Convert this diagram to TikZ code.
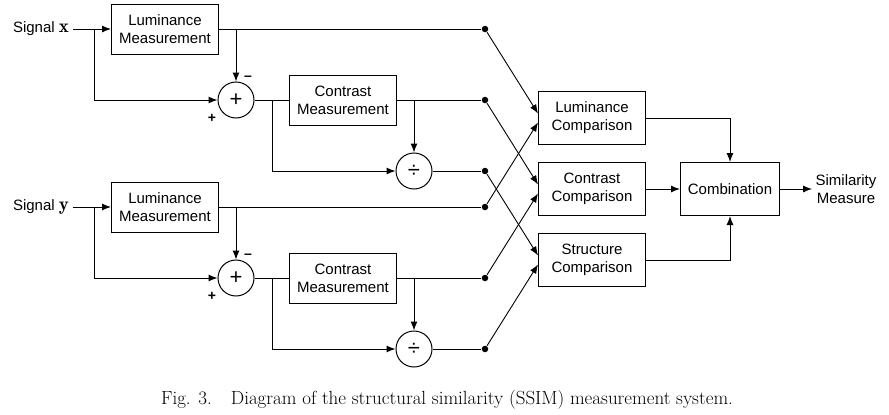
\documentclass[tikz,border=0pt]{standalone}
\usepackage{fontspec}
\setsansfont{Liberation Sans}
\usepackage{tikz}
\usepackage{amsmath}
\usetikzlibrary{shapes.geometric, arrows.meta, positioning, calc}

\newcommand{\sigvec}[1]{{\fontsize{19}{19}\selectfont$\mathbf{#1}$}}

\begin{document}
\begin{tikzpicture}[
        x=1pt, y=-1pt,
        font=\sffamily\fontsize{15}{18}\selectfont,
        line width=1pt,
        >={Latex[width=7pt,length=9pt]},
        base/.style={draw, line width=1pt, align=center, inner sep=2pt},
        process/.style={base, rectangle, minimum width=107pt, minimum height=50pt},
        compare/.style={base, rectangle, minimum width=107pt, minimum height=53pt},
        combine/.style={base, rectangle, minimum width=99pt, minimum height=53pt},
        op/.style={base, circle, minimum size=36pt, inner sep=0pt, font=\sffamily\fontsize{22}{22}\selectfont},
        dot/.style={circle, fill, inner sep=0pt, minimum size=6.5pt},
        sign/.style={inner sep=0pt, font=\sffamily\bfseries\fontsize{14}{14}\selectfont},
        arrow/.style={->}
    ]
    \useasboundingbox (0,0) rectangle (889,415);

    % Nodes: signal x
    \node[align=center, inner sep=4pt] (sigx) at (41,29) {Signal \sigvec{x}};
    \coordinate (bx) at (94,29);
    \node[process] (lumx) at (165,29) {Luminance\\Measurement};
    \node[op] (addx) at (236,100) {+};
    \node[sign] at (248,78) {--};
    \node[sign] at (212,118) {+};
    \coordinate (cx) at (272,100);
    \node[process] (conx) at (343,100) {Contrast\\Measurement};
    \coordinate (dx) at (414,100);
    \node[op] (divx) at (414,171) {÷};
    \node[dot] (ptlx) at (485,29) {};
    \node[dot] (ptcx) at (485,100) {};
    \node[dot] (ptsx) at (485,171) {};

    % Nodes: signal y
    \node[align=center, inner sep=4pt] (sigy) at (41,207) {Signal \sigvec{y}};
    \coordinate (by) at (94,207);
    \node[process] (lumy) at (165,207) {Luminance\\Measurement};
    \node[op] (addy) at (236,278) {+};
    \node[sign] at (248,256) {--};
    \node[sign] at (212,296) {+};
    \coordinate (cy) at (272,278);
    \node[process] (cony) at (343,278) {Contrast\\Measurement};
    \coordinate (dy) at (414,278);
    \node[op] (divy) at (414,349) {÷};
    \node[dot] (ptly) at (485,207) {};
    \node[dot] (ptcy) at (485,278) {};
    \node[dot] (ptsy) at (485,349) {};

    % Nodes: comparison
    \node[compare] (lumc) at (592,118) {Luminance\\Comparison};
    \node[compare] (conc) at (592,189) {Contrast\\Comparison};
    \node[compare] (strc) at (592,260) {Structure\\Comparison};
    \node[combine] (comb) at (730,189) {Combination};
    \node[align=center, inner sep=3pt] (sim) at (846,189) {Similarity\\Measure};

    % Arrows: signal x
    \draw[arrow] (sigx.east) -- (lumx.west);
    \draw[arrow] (bx) |- (addx.west);
    \draw (lumx.east) -- (ptlx);
    \draw[arrow] (lumx.east -| addx) -- (addx.north);
    \draw (addx.east) -- (conx.west);
    \draw[arrow] (cx) |- (divx.west);
    \draw (conx.east) -- (ptcx);
    \draw[arrow] (dx) -- (divx.north);
    \draw (divx.east) -- (ptsx);

    % Arrows: signal y
    \draw[arrow] (sigy.east) -- (lumy.west);
    \draw[arrow] (by) |- (addy.west);
    \draw (lumy.east) -- (ptly);
    \draw[arrow] (lumy.east -| addy) -- (addy.north);
    \draw (addy.east) -- (cony.west);
    \draw[arrow] (cy) |- (divy.west);
    \draw (cony.east) -- (ptcy);
    \draw[arrow] (dy) -- (divy.north);
    \draw (divy.east) -- (ptsy);

    % Arrows: to comparison
    \draw[arrow, line width=0.9pt] (ptlx) -- ([yshift=4.5pt]lumc.west);
    \draw[arrow, line width=0.9pt] (ptly) -- ([yshift=-4.5pt]lumc.west);
    \draw[arrow, line width=0.9pt] (ptcx) -- ([yshift=4.5pt]conc.west);
    \draw[arrow, line width=0.9pt] (ptcy) -- ([yshift=-4.5pt]conc.west);
    \draw[arrow, line width=0.9pt] (ptsx) -- ([yshift=4.5pt]strc.west);
    \draw[arrow, line width=0.9pt] (ptsy) -- ([yshift=-4.5pt]strc.west);

    % Arrows: combination
    \draw[arrow] (lumc.east) -| (comb.north);
    \draw[arrow] (conc.east) -- (comb.west);
    \draw[arrow] (strc.east) -| (comb.south);
    \draw[arrow] (comb.east) -- (sim.west);

    % Caption
    \node[font=\rmfamily\fontsize{19}{22}\selectfont] (caption) at (447,400)
        {Fig. 3.\quad Diagram of the structural similarity (SSIM) measurement system.};
\end{tikzpicture}
\end{document}
